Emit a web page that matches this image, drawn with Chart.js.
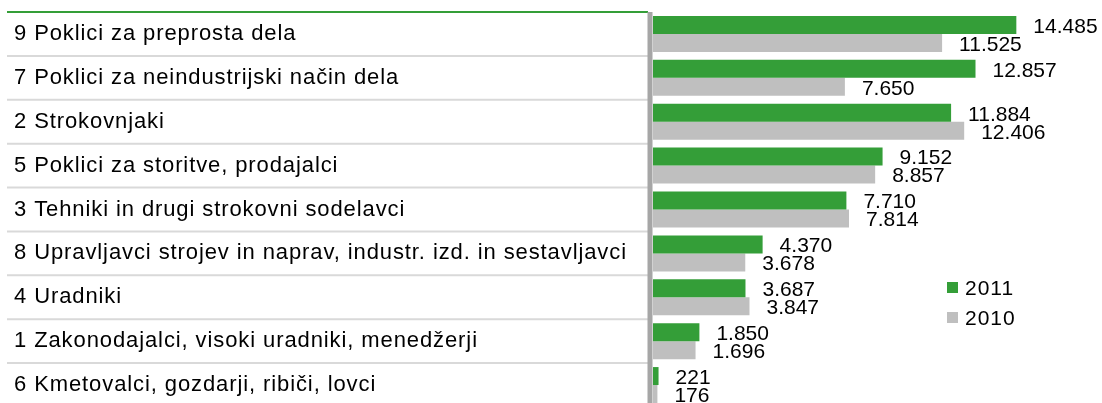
<!DOCTYPE html>
<html>
<head>
<meta charset="utf-8">
<script src="https://cdn.jsdelivr.net/npm/chart.js@4/dist/chart.umd.min.js"></script>
<style>
  html, body { margin: 0; padding: 0; background: #fff; overflow: hidden; }
  #clip { width: 1102px; height: 403px; overflow: hidden; }
  /* last row is cut off at the bottom in the original */
  #wrap { width: 1102px; height: 407px; }
</style>
</head>
<body>
<div id="clip"><div id="wrap"><canvas id="poklici"></canvas></div></div>
<script>
// Data
const categories = [
  '9 Poklici za preprosta dela',
  '7 Poklici za neindustrijski način dela',
  '2 Strokovnjaki',
  '5 Poklici za storitve, prodajalci',
  '3 Tehniki in drugi strokovni sodelavci',
  '8 Upravljavci strojev in naprav, industr. izd. in sestavljavci',
  '4 Uradniki',
  '1 Zakonodajalci, visoki uradniki, menedžerji',
  '6 Kmetovalci, gozdarji, ribiči, lovci'
];
const values2011 = [14485, 12857, 11884, 9152, 7710, 4370, 3687, 1850, 221];
const values2010 = [11525, 7650, 12406, 8857, 7814, 3678, 3847, 1696, 176];
const seriesNames = ['2011', '2010'];

const GREEN = '#349e38';
const GRAY = '#bfbfbf';
const FONT = '"Liberation Sans", Arial, sans-serif';

// thousand separator with dot
function fmt(v) {
  return String(v).replace(/\B(?=(\d{3})+(?!\d))/g, '.');
}

// Table lines, axis line, value labels and legend
const decorPlugin = {
  id: 'decor',
  beforeDraw(chart) {
    // wider spacing like the original export
    chart.ctx.letterSpacing = '0.9px';
  },
  afterDatasetsDraw(chart) {
    const ctx = chart.ctx;
    const area = chart.chartArea;
    const yScale = chart.scales.y;
    const step = (yScale.bottom - yScale.top) / categories.length;

    ctx.save();
    // row separators
    ctx.strokeStyle = '#d9d9d9';
    ctx.lineWidth = 2;
    for (let i = 1; i < categories.length; i++) {
      const y = yScale.getPixelForValue(i) - step / 2;
      ctx.beginPath();
      ctx.moveTo(7, y);
      ctx.lineTo(area.left - 5, y);
      ctx.stroke();
    }
    // top green line
    ctx.strokeStyle = GREEN;
    ctx.lineWidth = 2;
    ctx.beginPath();
    ctx.moveTo(7, area.top);
    ctx.lineTo(area.left - 5, area.top);
    ctx.stroke();

    // vertical axis
    ctx.strokeStyle = '#a6a6a6';
    ctx.lineWidth = 5;
    ctx.beginPath();
    ctx.moveTo(area.left - 3, area.top);
    ctx.lineTo(area.left - 3, chart.height);
    ctx.stroke();

    // value labels
    ctx.letterSpacing = '0px';
    ctx.fillStyle = '#000';
    ctx.font = '21px ' + FONT;
    ctx.textAlign = 'left';
    ctx.textBaseline = 'middle';
    chart.data.datasets.forEach((ds, di) => {
      const meta = chart.getDatasetMeta(di);
      meta.data.forEach((bar, i) => {
        ctx.fillText(fmt(ds.data[i]), bar.x + 17, bar.y + 2);
      });
    });

    // legend
    ctx.letterSpacing = '1px';
    chart.data.datasets.forEach((ds, di) => {
      const y = 288 + di * 30;
      ctx.fillStyle = ds.backgroundColor;
      ctx.fillRect(947, y - 6, 11, 11);
      ctx.fillStyle = '#000';
      ctx.fillText(ds.label, 965, y + 1);
    });
    ctx.restore();
  }
};

new Chart(document.getElementById('poklici'), {
  type: 'bar',
  data: {
    labels: categories,
    datasets: [
      { label: seriesNames[0], data: values2011, backgroundColor: GREEN },
      { label: seriesNames[1], data: values2010, backgroundColor: GRAY }
    ]
  },
  options: {
    indexAxis: 'y',
    responsive: true,
    maintainAspectRatio: false,
    animation: false,
    layout: { padding: { left: 14, top: 12, right: 0, bottom: 0 } },
    datasets: {
      bar: { categoryPercentage: 0.82, barPercentage: 1.0 }
    },
    plugins: {
      legend: { display: false },
      tooltip: { enabled: false }
    },
    scales: {
      x: {
        display: false,
        min: 0,
        max: 17900
      },
      y: {
        afterFit(scale) {
          scale.width = 639;
          scale.paddingTop = 0;
          scale.paddingBottom = 0;
        },
        grid: { display: false },
        border: { display: false },
        ticks: {
          crossAlign: 'far',
          color: '#000',
          font: { family: FONT, size: 22 }
        }
      }
    }
  },
  plugins: [decorPlugin]
});
</script>
</body>
</html>
